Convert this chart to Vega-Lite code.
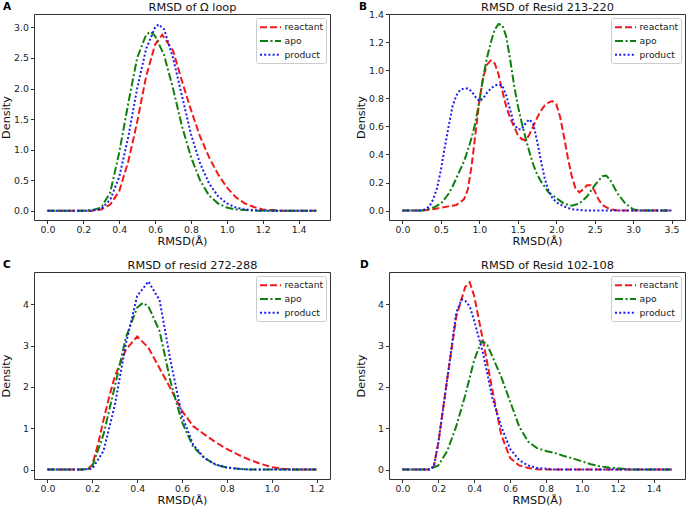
{
"$schema": "https://vega.github.io/schema/vega-lite/v6.json",
"autosize": {"type": "pad"},
"padding": {"left": 0, "top": 1, "right": 0, "bottom": 0},
"background": "white",
"config": {
 "font": "DejaVu Sans",
 "view": {"stroke": "#333", "strokeWidth": 1},
 "axis": {"domain": false, "grid": false, "tickColor": "#333", "tickSize": 3.5, "tickWidth": 1, "labelFontSize": 9.4, "labelColor": "#222", "labelPadding": 2, "titleFontSize": 11.3, "titleFontWeight": "normal", "titleColor": "#111", "titlePadding": 2},
 "axisY": {"minExtent": 20.5, "maxExtent": 20.5},
 "axisX": {"labelAngle": 0},
 "legend": {"orient": "top-right", "offset": 4, "strokeColor": "#ccc", "fillColor": "white", "padding": 2.2, "cornerRadius": 2, "labelFontSize": 9.2, "labelColor": "#222", "symbolType": "M-1.75,0H1.75", "symbolSize": 144, "symbolStrokeWidth": 2, "symbolOffset": 5.3, "rowPadding": 0.8, "labelOffset": 7, "title": null},
 "title": {"fontSize": 11.3, "fontWeight": "normal", "offset": 1, "color": "#111"},
 "line": {"strokeWidth": 2, "strokeCap": "butt"}
},
"datasets": {
 "A": [
  {"s":"reactant","x":0,"y":0},{"s":"reactant","x":0.1,"y":0},{"s":"reactant","x":0.2,"y":0},{"s":"reactant","x":0.25,"y":0},{"s":"reactant","x":0.3,"y":0.02},{"s":"reactant","x":0.35,"y":0.1},{"s":"reactant","x":0.4,"y":0.32},{"s":"reactant","x":0.45,"y":0.8},{"s":"reactant","x":0.5,"y":1.45},{"s":"reactant","x":0.55,"y":2.2},{"s":"reactant","x":0.6,"y":2.72},{"s":"reactant","x":0.64,"y":2.88},{"s":"reactant","x":0.7,"y":2.62},{"s":"reactant","x":0.75,"y":2.12},{"s":"reactant","x":0.8,"y":1.65},{"s":"reactant","x":0.85,"y":1.22},{"s":"reactant","x":0.9,"y":0.88},{"s":"reactant","x":0.95,"y":0.6},{"s":"reactant","x":1.0,"y":0.38},{"s":"reactant","x":1.05,"y":0.22},{"s":"reactant","x":1.1,"y":0.12},{"s":"reactant","x":1.15,"y":0.06},{"s":"reactant","x":1.2,"y":0.02},{"s":"reactant","x":1.25,"y":0.01},{"s":"reactant","x":1.3,"y":0},{"s":"reactant","x":1.4,"y":0},{"s":"reactant","x":1.5,"y":0},
  {"s":"apo","x":0,"y":0},{"s":"apo","x":0.1,"y":0},{"s":"apo","x":0.2,"y":0},{"s":"apo","x":0.25,"y":0.01},{"s":"apo","x":0.3,"y":0.05},{"s":"apo","x":0.35,"y":0.3},{"s":"apo","x":0.4,"y":0.95},{"s":"apo","x":0.45,"y":1.75},{"s":"apo","x":0.5,"y":2.5},{"s":"apo","x":0.55,"y":2.88},{"s":"apo","x":0.575,"y":2.93},{"s":"apo","x":0.6,"y":2.86},{"s":"apo","x":0.65,"y":2.55},{"s":"apo","x":0.7,"y":2.0},{"s":"apo","x":0.75,"y":1.38},{"s":"apo","x":0.8,"y":0.88},{"s":"apo","x":0.85,"y":0.5},{"s":"apo","x":0.9,"y":0.25},{"s":"apo","x":0.95,"y":0.12},{"s":"apo","x":1.0,"y":0.05},{"s":"apo","x":1.05,"y":0.02},{"s":"apo","x":1.1,"y":0.01},{"s":"apo","x":1.15,"y":0},{"s":"apo","x":1.3,"y":0},{"s":"apo","x":1.5,"y":0},
  {"s":"product","x":0,"y":0},{"s":"product","x":0.1,"y":0},{"s":"product","x":0.2,"y":0},{"s":"product","x":0.25,"y":0},{"s":"product","x":0.3,"y":0.03},{"s":"product","x":0.35,"y":0.18},{"s":"product","x":0.4,"y":0.55},{"s":"product","x":0.45,"y":1.2},{"s":"product","x":0.5,"y":2.0},{"s":"product","x":0.55,"y":2.65},{"s":"product","x":0.6,"y":3.0},{"s":"product","x":0.62,"y":3.05},{"s":"product","x":0.65,"y":2.97},{"s":"product","x":0.7,"y":2.5},{"s":"product","x":0.75,"y":1.88},{"s":"product","x":0.8,"y":1.25},{"s":"product","x":0.85,"y":0.78},{"s":"product","x":0.9,"y":0.45},{"s":"product","x":0.95,"y":0.24},{"s":"product","x":1.0,"y":0.12},{"s":"product","x":1.05,"y":0.05},{"s":"product","x":1.1,"y":0.02},{"s":"product","x":1.15,"y":0.01},{"s":"product","x":1.2,"y":0},{"s":"product","x":1.3,"y":0},{"s":"product","x":1.5,"y":0}
 ],
 "B": [
  {"s":"reactant","x":0,"y":0},{"s":"reactant","x":0.25,"y":0},{"s":"reactant","x":0.4,"y":0.01},{"s":"reactant","x":0.5,"y":0.02},{"s":"reactant","x":0.6,"y":0.03},{"s":"reactant","x":0.7,"y":0.04},{"s":"reactant","x":0.8,"y":0.08},{"s":"reactant","x":0.85,"y":0.15},{"s":"reactant","x":0.9,"y":0.32},{"s":"reactant","x":0.95,"y":0.55},{"s":"reactant","x":1.0,"y":0.78},{"s":"reactant","x":1.05,"y":0.95},{"s":"reactant","x":1.1,"y":1.04},{"s":"reactant","x":1.15,"y":1.07},{"s":"reactant","x":1.2,"y":1.05},{"s":"reactant","x":1.25,"y":0.97},{"s":"reactant","x":1.3,"y":0.85},{"s":"reactant","x":1.35,"y":0.74},{"s":"reactant","x":1.4,"y":0.66},{"s":"reactant","x":1.45,"y":0.6},{"s":"reactant","x":1.5,"y":0.54},{"s":"reactant","x":1.55,"y":0.51},{"s":"reactant","x":1.6,"y":0.5},{"s":"reactant","x":1.65,"y":0.54},{"s":"reactant","x":1.7,"y":0.6},{"s":"reactant","x":1.75,"y":0.66},{"s":"reactant","x":1.8,"y":0.71},{"s":"reactant","x":1.85,"y":0.75},{"s":"reactant","x":1.9,"y":0.77},{"s":"reactant","x":1.95,"y":0.78},{"s":"reactant","x":2.0,"y":0.76},{"s":"reactant","x":2.05,"y":0.67},{"s":"reactant","x":2.1,"y":0.53},{"s":"reactant","x":2.15,"y":0.38},{"s":"reactant","x":2.2,"y":0.25},{"s":"reactant","x":2.25,"y":0.16},{"s":"reactant","x":2.3,"y":0.13},{"s":"reactant","x":2.35,"y":0.15},{"s":"reactant","x":2.4,"y":0.18},{"s":"reactant","x":2.45,"y":0.18},{"s":"reactant","x":2.5,"y":0.14},{"s":"reactant","x":2.55,"y":0.08},{"s":"reactant","x":2.6,"y":0.04},{"s":"reactant","x":2.7,"y":0.01},{"s":"reactant","x":2.8,"y":0},{"s":"reactant","x":3.0,"y":0},{"s":"reactant","x":3.25,"y":0},{"s":"reactant","x":3.5,"y":0},
  {"s":"apo","x":0,"y":0},{"s":"apo","x":0.25,"y":0},{"s":"apo","x":0.3,"y":0.005},{"s":"apo","x":0.4,"y":0.02},{"s":"apo","x":0.5,"y":0.05},{"s":"apo","x":0.6,"y":0.12},{"s":"apo","x":0.65,"y":0.17},{"s":"apo","x":0.7,"y":0.23},{"s":"apo","x":0.75,"y":0.29},{"s":"apo","x":0.8,"y":0.35},{"s":"apo","x":0.85,"y":0.43},{"s":"apo","x":0.9,"y":0.52},{"s":"apo","x":0.95,"y":0.63},{"s":"apo","x":1.0,"y":0.78},{"s":"apo","x":1.05,"y":0.95},{"s":"apo","x":1.1,"y":1.09},{"s":"apo","x":1.15,"y":1.2},{"s":"apo","x":1.2,"y":1.29},{"s":"apo","x":1.25,"y":1.33},{"s":"apo","x":1.3,"y":1.32},{"s":"apo","x":1.35,"y":1.24},{"s":"apo","x":1.4,"y":1.08},{"s":"apo","x":1.45,"y":0.9},{"s":"apo","x":1.5,"y":0.75},{"s":"apo","x":1.55,"y":0.63},{"s":"apo","x":1.6,"y":0.52},{"s":"apo","x":1.65,"y":0.42},{"s":"apo","x":1.7,"y":0.33},{"s":"apo","x":1.75,"y":0.26},{"s":"apo","x":1.8,"y":0.21},{"s":"apo","x":1.85,"y":0.17},{"s":"apo","x":1.9,"y":0.13},{"s":"apo","x":2.0,"y":0.09},{"s":"apo","x":2.1,"y":0.05},{"s":"apo","x":2.2,"y":0.035},{"s":"apo","x":2.3,"y":0.05},{"s":"apo","x":2.4,"y":0.1},{"s":"apo","x":2.5,"y":0.18},{"s":"apo","x":2.6,"y":0.245},{"s":"apo","x":2.65,"y":0.25},{"s":"apo","x":2.7,"y":0.22},{"s":"apo","x":2.8,"y":0.12},{"s":"apo","x":2.9,"y":0.05},{"s":"apo","x":3.0,"y":0.01},{"s":"apo","x":3.1,"y":0},{"s":"apo","x":3.25,"y":0},{"s":"apo","x":3.5,"y":0},
  {"s":"product","x":0,"y":0},{"s":"product","x":0.25,"y":0},{"s":"product","x":0.3,"y":0.01},{"s":"product","x":0.35,"y":0.03},{"s":"product","x":0.4,"y":0.08},{"s":"product","x":0.45,"y":0.16},{"s":"product","x":0.5,"y":0.29},{"s":"product","x":0.55,"y":0.45},{"s":"product","x":0.6,"y":0.6},{"s":"product","x":0.65,"y":0.74},{"s":"product","x":0.7,"y":0.82},{"s":"product","x":0.75,"y":0.86},{"s":"product","x":0.8,"y":0.87},{"s":"product","x":0.85,"y":0.87},{"s":"product","x":0.9,"y":0.85},{"s":"product","x":0.95,"y":0.81},{"s":"product","x":1.0,"y":0.78},{"s":"product","x":1.05,"y":0.8},{"s":"product","x":1.1,"y":0.84},{"s":"product","x":1.15,"y":0.87},{"s":"product","x":1.2,"y":0.89},{"s":"product","x":1.25,"y":0.9},{"s":"product","x":1.3,"y":0.89},{"s":"product","x":1.35,"y":0.82},{"s":"product","x":1.4,"y":0.72},{"s":"product","x":1.45,"y":0.62},{"s":"product","x":1.5,"y":0.58},{"s":"product","x":1.55,"y":0.58},{"s":"product","x":1.6,"y":0.62},{"s":"product","x":1.65,"y":0.65},{"s":"product","x":1.7,"y":0.62},{"s":"product","x":1.75,"y":0.5},{"s":"product","x":1.8,"y":0.36},{"s":"product","x":1.85,"y":0.23},{"s":"product","x":1.9,"y":0.14},{"s":"product","x":1.95,"y":0.09},{"s":"product","x":2.0,"y":0.06},{"s":"product","x":2.1,"y":0.03},{"s":"product","x":2.2,"y":0.01},{"s":"product","x":2.3,"y":0.005},{"s":"product","x":2.4,"y":0},{"s":"product","x":2.75,"y":0},{"s":"product","x":3.0,"y":0},{"s":"product","x":3.5,"y":0}
 ],
 "C": [
  {"s":"reactant","x":0,"y":0},{"s":"reactant","x":0.1,"y":0},{"s":"reactant","x":0.15,"y":0},{"s":"reactant","x":0.18,"y":0.01},{"s":"reactant","x":0.2,"y":0.12},{"s":"reactant","x":0.225,"y":0.6},{"s":"reactant","x":0.25,"y":1.2},{"s":"reactant","x":0.275,"y":1.75},{"s":"reactant","x":0.3,"y":2.25},{"s":"reactant","x":0.35,"y":2.9},{"s":"reactant","x":0.4,"y":3.22},{"s":"reactant","x":0.45,"y":2.95},{"s":"reactant","x":0.5,"y":2.45},{"s":"reactant","x":0.55,"y":1.95},{"s":"reactant","x":0.6,"y":1.42},{"s":"reactant","x":0.65,"y":1.05},{"s":"reactant","x":0.7,"y":0.85},{"s":"reactant","x":0.75,"y":0.66},{"s":"reactant","x":0.8,"y":0.5},{"s":"reactant","x":0.85,"y":0.36},{"s":"reactant","x":0.9,"y":0.24},{"s":"reactant","x":0.95,"y":0.14},{"s":"reactant","x":1.0,"y":0.06},{"s":"reactant","x":1.05,"y":0.02},{"s":"reactant","x":1.1,"y":0},{"s":"reactant","x":1.2,"y":0},
  {"s":"apo","x":0,"y":0},{"s":"apo","x":0.1,"y":0},{"s":"apo","x":0.15,"y":0},{"s":"apo","x":0.18,"y":0.01},{"s":"apo","x":0.2,"y":0.08},{"s":"apo","x":0.25,"y":0.85},{"s":"apo","x":0.3,"y":2.0},{"s":"apo","x":0.35,"y":3.2},{"s":"apo","x":0.4,"y":3.92},{"s":"apo","x":0.425,"y":4.03},{"s":"apo","x":0.45,"y":3.95},{"s":"apo","x":0.5,"y":3.35},{"s":"apo","x":0.55,"y":2.1},{"s":"apo","x":0.6,"y":1.15},{"s":"apo","x":0.65,"y":0.55},{"s":"apo","x":0.7,"y":0.28},{"s":"apo","x":0.75,"y":0.12},{"s":"apo","x":0.8,"y":0.05},{"s":"apo","x":0.85,"y":0.02},{"s":"apo","x":0.9,"y":0},{"s":"apo","x":1.0,"y":0},{"s":"apo","x":1.2,"y":0},
  {"s":"product","x":0,"y":0},{"s":"product","x":0.1,"y":0},{"s":"product","x":0.15,"y":0},{"s":"product","x":0.2,"y":0.02},{"s":"product","x":0.25,"y":0.45},{"s":"product","x":0.3,"y":1.55},{"s":"product","x":0.35,"y":3.05},{"s":"product","x":0.4,"y":4.2},{"s":"product","x":0.45,"y":4.55},{"s":"product","x":0.5,"y":4.1},{"s":"product","x":0.55,"y":2.6},{"s":"product","x":0.6,"y":1.3},{"s":"product","x":0.65,"y":0.6},{"s":"product","x":0.7,"y":0.28},{"s":"product","x":0.75,"y":0.12},{"s":"product","x":0.8,"y":0.05},{"s":"product","x":0.85,"y":0.02},{"s":"product","x":0.9,"y":0},{"s":"product","x":1.0,"y":0},{"s":"product","x":1.2,"y":0}
 ],
 "D": [
  {"s":"reactant","x":0,"y":0},{"s":"reactant","x":0.1,"y":0},{"s":"reactant","x":0.15,"y":0},{"s":"reactant","x":0.175,"y":0.08},{"s":"reactant","x":0.2,"y":0.65},{"s":"reactant","x":0.25,"y":2.2},{"s":"reactant","x":0.3,"y":3.7},{"s":"reactant","x":0.35,"y":4.42},{"s":"reactant","x":0.375,"y":4.53},{"s":"reactant","x":0.4,"y":4.2},{"s":"reactant","x":0.45,"y":3.1},{"s":"reactant","x":0.5,"y":1.95},{"s":"reactant","x":0.55,"y":0.85},{"s":"reactant","x":0.6,"y":0.28},{"s":"reactant","x":0.65,"y":0.1},{"s":"reactant","x":0.7,"y":0.04},{"s":"reactant","x":0.75,"y":0.01},{"s":"reactant","x":0.8,"y":0},{"s":"reactant","x":1.0,"y":0},{"s":"reactant","x":1.2,"y":0},{"s":"reactant","x":1.5,"y":0},
  {"s":"apo","x":0,"y":0},{"s":"apo","x":0.1,"y":0},{"s":"apo","x":0.15,"y":0.01},{"s":"apo","x":0.2,"y":0.1},{"s":"apo","x":0.25,"y":0.45},{"s":"apo","x":0.3,"y":1.05},{"s":"apo","x":0.35,"y":1.8},{"s":"apo","x":0.4,"y":2.65},{"s":"apo","x":0.44,"y":3.1},{"s":"apo","x":0.47,"y":3.05},{"s":"apo","x":0.5,"y":2.75},{"s":"apo","x":0.55,"y":2.25},{"s":"apo","x":0.6,"y":1.65},{"s":"apo","x":0.65,"y":1.05},{"s":"apo","x":0.7,"y":0.68},{"s":"apo","x":0.75,"y":0.52},{"s":"apo","x":0.8,"y":0.45},{"s":"apo","x":0.85,"y":0.4},{"s":"apo","x":0.9,"y":0.33},{"s":"apo","x":0.95,"y":0.27},{"s":"apo","x":1.0,"y":0.2},{"s":"apo","x":1.05,"y":0.13},{"s":"apo","x":1.1,"y":0.08},{"s":"apo","x":1.15,"y":0.05},{"s":"apo","x":1.2,"y":0.03},{"s":"apo","x":1.25,"y":0.01},{"s":"apo","x":1.3,"y":0},{"s":"apo","x":1.4,"y":0},{"s":"apo","x":1.5,"y":0},
  {"s":"product","x":0,"y":0},{"s":"product","x":0.1,"y":0},{"s":"product","x":0.15,"y":0},{"s":"product","x":0.175,"y":0.08},{"s":"product","x":0.2,"y":0.65},{"s":"product","x":0.25,"y":2.2},{"s":"product","x":0.3,"y":3.8},{"s":"product","x":0.33,"y":4.12},{"s":"product","x":0.35,"y":4.08},{"s":"product","x":0.375,"y":3.95},{"s":"product","x":0.4,"y":3.6},{"s":"product","x":0.45,"y":2.8},{"s":"product","x":0.5,"y":1.75},{"s":"product","x":0.55,"y":1.05},{"s":"product","x":0.6,"y":0.5},{"s":"product","x":0.65,"y":0.23},{"s":"product","x":0.7,"y":0.1},{"s":"product","x":0.75,"y":0.04},{"s":"product","x":0.8,"y":0.02},{"s":"product","x":0.85,"y":0},{"s":"product","x":1.0,"y":0},{"s":"product","x":1.5,"y":0}
 ]
},
"resolve": {"scale": {"color": "independent", "strokeDash": "independent"}},
"spacing": 11,
"vconcat": [
 {
  "spacing": 24,
  "resolve": {"scale": {"color": "independent", "strokeDash": "independent"}},
  "hconcat": [
   {
    "title": {"text": "A", "anchor": "start", "fontWeight": "bold", "fontSize": 10.5, "offset": -11.5, "dx": 3, "color": "#000"},
    "resolve": {"scale": {"color": "independent", "strokeDash": "independent"}},
    "vconcat": [
     {
      "width": 296, "height": 206,
      "title": {"text": "RMSD of Ω loop", "dx": 10.5},
      "data": {"name": "A"},
      "mark": {"type": "line"},
      "encoding": {
       "x": {"field": "x", "type": "quantitative", "scale": {"domain": [-0.075, 1.575], "nice": false, "zero": false}, "axis": {"values": [0, 0.2, 0.4, 0.6, 0.8, 1.0, 1.2, 1.4], "format": ".1f", "title": "RMSD(Å)"}},
       "y": {"field": "y", "type": "quantitative", "scale": {"domain": [-0.153, 3.22], "nice": false, "zero": false}, "axis": {"values": [0, 0.5, 1.0, 1.5, 2.0, 2.5, 3.0], "format": ".1f", "title": "Density"}},
       "color": {"field": "s", "type": "nominal", "scale": {"domain": ["reactant", "apo", "product"], "range": ["#f0191c", "#0f800f", "#1c1cf0"]}, "legend": {"title": null}},
       "strokeDash": {"field": "s", "type": "nominal", "scale": {"domain": ["reactant", "apo", "product"], "range": [[7, 3], [8, 2.5, 2, 2.5], [2, 2.2]]}, "legend": {"title": null}}
      }
     }
    ]
   },
   {
    "title": {"text": "B", "anchor": "start", "fontWeight": "bold", "fontSize": 10.5, "offset": -11.5, "dx": 4, "color": "#000"},
    "resolve": {"scale": {"color": "independent", "strokeDash": "independent"}},
    "vconcat": [
     {
      "width": 296, "height": 206,
      "title": {"text": "RMSD of Resid 213-220", "dy": 4.75, "dx": 10.5},
      "data": {"name": "B"},
      "mark": {"type": "line"},
      "encoding": {
       "x": {"field": "x", "type": "quantitative", "scale": {"domain": [-0.175, 3.675], "nice": false, "zero": false}, "axis": {"values": [0, 0.5, 1.0, 1.5, 2.0, 2.5, 3.0, 3.5], "format": ".1f", "title": "RMSD(Å)"}},
       "y": {"field": "y", "type": "quantitative", "scale": {"domain": [-0.067, 1.401], "nice": false, "zero": false}, "axis": {"values": [0, 0.2, 0.4, 0.6, 0.8, 1.0, 1.2, 1.4], "format": ".1f", "title": "Density"}},
       "color": {"field": "s", "type": "nominal", "scale": {"domain": ["reactant", "apo", "product"], "range": ["#f0191c", "#0f800f", "#1c1cf0"]}, "legend": {"title": null}},
       "strokeDash": {"field": "s", "type": "nominal", "scale": {"domain": ["reactant", "apo", "product"], "range": [[7, 3], [8, 2.5, 2, 2.5], [2, 2.2]]}, "legend": {"title": null}}
      }
     }
    ]
   }
  ]
 },
 {
  "spacing": 24,
  "resolve": {"scale": {"color": "independent", "strokeDash": "independent"}},
  "hconcat": [
   {
    "title": {"text": "C", "anchor": "start", "fontWeight": "bold", "fontSize": 10.5, "offset": -11.5, "dx": 3, "color": "#000"},
    "resolve": {"scale": {"color": "independent", "strokeDash": "independent"}},
    "vconcat": [
     {
      "width": 296, "height": 207,
      "title": {"text": "RMSD of resid 272-288", "dx": 10.5},
      "data": {"name": "C"},
      "mark": {"type": "line"},
      "encoding": {
       "x": {"field": "x", "type": "quantitative", "scale": {"domain": [-0.06, 1.26], "nice": false, "zero": false}, "axis": {"values": [0, 0.2, 0.4, 0.6, 0.8, 1.0, 1.2], "format": ".1f", "title": "RMSD(Å)"}},
       "y": {"field": "y", "type": "quantitative", "scale": {"domain": [-0.228, 4.78], "nice": false, "zero": false}, "axis": {"values": [0, 1, 2, 3, 4], "format": "d", "title": "Density"}},
       "color": {"field": "s", "type": "nominal", "scale": {"domain": ["reactant", "apo", "product"], "range": ["#f0191c", "#0f800f", "#1c1cf0"]}, "legend": {"title": null}},
       "strokeDash": {"field": "s", "type": "nominal", "scale": {"domain": ["reactant", "apo", "product"], "range": [[7, 3], [8, 2.5, 2, 2.5], [2, 2.2]]}, "legend": {"title": null}}
      }
     }
    ]
   },
   {
    "title": {"text": "D", "anchor": "start", "fontWeight": "bold", "fontSize": 10.5, "offset": -11.5, "dx": 5, "color": "#000"},
    "resolve": {"scale": {"color": "independent", "strokeDash": "independent"}},
    "vconcat": [
     {
      "width": 296, "height": 207,
      "title": {"text": "RMSD of Resid 102-108", "dx": 10.5},
      "data": {"name": "D"},
      "mark": {"type": "line"},
      "encoding": {
       "x": {"field": "x", "type": "quantitative", "scale": {"domain": [-0.075, 1.575], "nice": false, "zero": false}, "axis": {"values": [0, 0.2, 0.4, 0.6, 0.8, 1.0, 1.2, 1.4], "format": ".1f", "title": "RMSD(Å)"}},
       "y": {"field": "y", "type": "quantitative", "scale": {"domain": [-0.228, 4.78], "nice": false, "zero": false}, "axis": {"values": [0, 1, 2, 3, 4], "format": "d", "title": "Density"}},
       "color": {"field": "s", "type": "nominal", "scale": {"domain": ["reactant", "apo", "product"], "range": ["#f0191c", "#0f800f", "#1c1cf0"]}, "legend": {"title": null}},
       "strokeDash": {"field": "s", "type": "nominal", "scale": {"domain": ["reactant", "apo", "product"], "range": [[7, 3], [8, 2.5, 2, 2.5], [2, 2.2]]}, "legend": {"title": null}}
      }
     }
    ]
   }
  ]
 }
]
}
